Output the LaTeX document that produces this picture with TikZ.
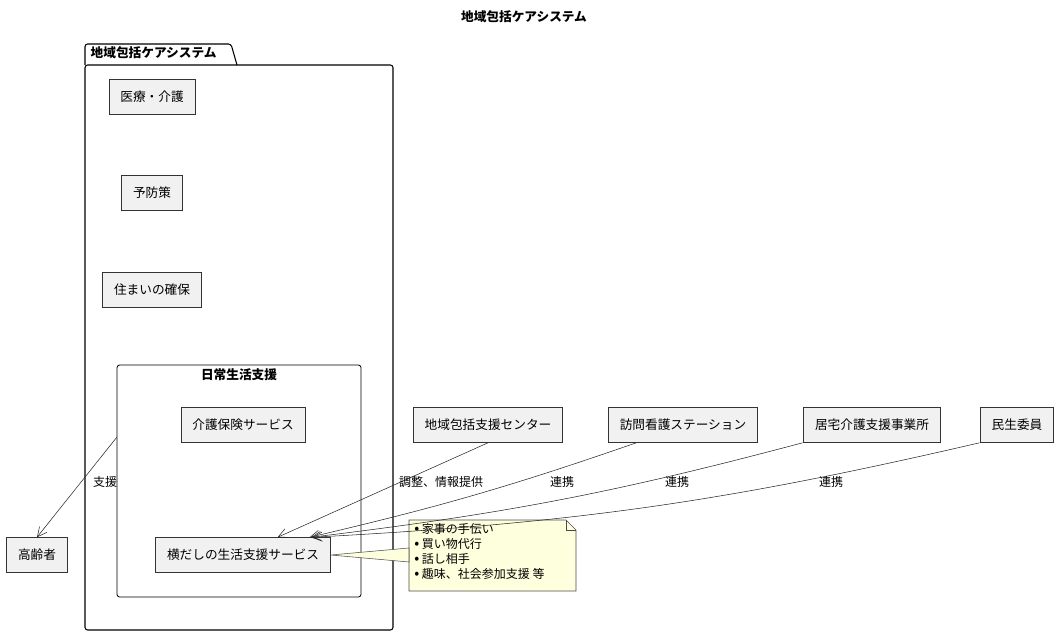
\documentclass[tikz,border=0pt]{standalone}
\usepackage{fontspec}
\setmainfont{Noto Sans CJK JP}
\usetikzlibrary{arrows.meta}
\definecolor{boxfill}{HTML}{F1F1F1}
\definecolor{notefill}{HTML}{FEFFDD}
\newcommand{\blt}{{\fontsize{11}{11}\selectfont •}\ }
\begin{document}
\begin{tikzpicture}[x=0.75pt,y=-0.75pt,
    item/.style={
        rectangle,
        draw=black!80,
        fill=boxfill,
        minimum height=35*0.75pt,
        inner xsep=8.5pt,
        font=\fontsize{9.5}{11}\selectfont
    },
    frame/.style={draw=black, line width=0.8pt, rounded corners=2pt},
    link/.style={draw=black!85, -{Straight Barb[length=7pt,width=7pt]}},
    tag/.style={font=\fontsize{9}{11}\selectfont}
]
\useasboundingbox (0,0) rectangle (1060,635);

% Title
\node[font=\bfseries\fontsize{9.5}{11}\selectfont] (title) at (524,17) {地域包括ケアシステム};

% Package
\draw[frame] (85,65) -- (85,44) -- (231,44) -- (237,65);
\draw[frame] (85,65) rectangle (393,630);
\node[font=\bfseries\fontsize{9.5}{11}\selectfont, anchor=west] (pkg) at (86,53) {地域包括ケアシステム};

% Boxes inside the package
\node[item] (care) at (152,97) {医療・介護};
\node[item] (prevent) at (152,193) {予防策};
\node[item] (house) at (152,290) {住まいの確保};

% Daily life support
\draw[frame, line width=0.6pt] (117,365) rectangle (361,597);
\coordinate (dailyleft) at (117,437);
\node[font=\bfseries\fontsize{9.5}{11}\selectfont] (daily) at (239,375) {日常生活支援};
\node[item] (insur) at (243,425) {介護保険サービス};
\node[item] (extra) at (243,555) {横だしの生活支援サービス};

% Outside
\node[item] (elder) at (37,555) {高齢者};
\node[item] (center) at (488,425) {地域包括支援センター};
\node[item] (nurse) at (683,425) {訪問看護ステーション};
\node[item] (home) at (872,425) {居宅介護支援事業所};
\node[item] (welfare) at (1017,425) {民生委員};

% Note
\draw[draw=black!70, fill=notefill] (409,520) -- (566,520) -- (576,530) -- (576,591) -- (409,591) -- cycle;
\draw[draw=black!70] (566,520) -- (566,530) -- (576,530);
\draw[draw=black!70, fill=notefill] (extra.east) -- (409,548) -- (409,562) -- cycle;
\node[anchor=north west, align=left, inner sep=0pt, font=\fontsize{9}{11.3}\selectfont] (note) at (414,523)
    {\blt 家事の手伝い\\\blt 買い物代行\\\blt 話し相手\\\blt 趣味、社会参加支援 等};

% Connectors
\draw[link] (dailyleft) -- (elder.north);
\node[tag] (l1) at (105,482) {支援};
\draw[link] (center.south) -- ([xshift=26pt]extra.north);
\node[tag] (l2) at (441,482) {調整、情報提供};
\draw[link] ([xshift=-35pt]nurse.south) to[bend left=3] ([xshift=50pt]extra.north);
\node[tag] (l3) at (562,482) {連携};
\draw[link] ([xshift=-52pt]home.south) to[bend left=4] ([xshift=51pt]extra.north);
\node[tag] (l4) at (677,482) {連携};
\draw[link] ([xshift=-28pt]welfare.south) to[bend left=5] ([xshift=52pt]extra.north);
\node[tag] (l5) at (831,482) {連携};
\end{tikzpicture}
\end{document}
